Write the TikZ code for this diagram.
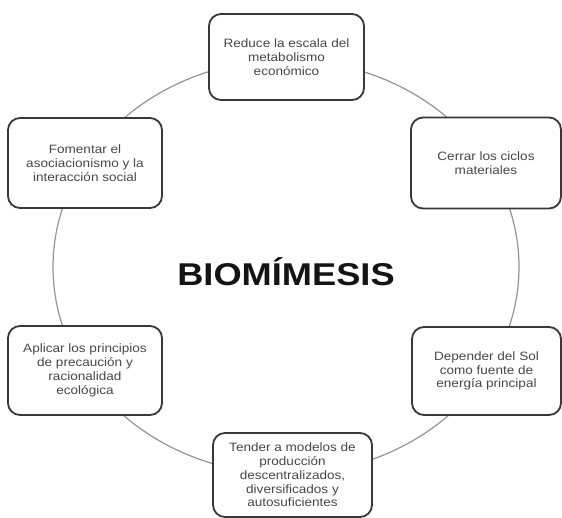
\documentclass[tikz,border=0pt]{standalone}
\usepackage{fontspec}
\setmainfont{Liberation Sans}
\newfontfamily\boxfont[FakeStretch=1.12]{Liberation Sans}
\newfontfamily\titlefont[FakeStretch=1.15]{Liberation Sans}
\begin{document}
\begin{tikzpicture}[x=1pt,y=-1pt,
  ring/.style={draw=black!42,line width=1.2pt},
  stagebox/.style={draw=black!78,line width=1.8pt,fill=white,rounded corners=12pt,
    align=center,inner sep=2pt,text=black!72,
    font=\boxfont\fontsize{12.1}{13.8}\selectfont},
  titletext/.style={font=\titlefont\bfseries\fontsize{31.5}{34}\selectfont,text=black!92}]
\useasboundingbox (0,0) rectangle (562,517);
\fill[white] (0,0) rectangle (562,517);

% central ring
\coordinate (c) at (286,267);
\draw[ring] (c) ellipse [x radius=233, y radius=207];

% title
\node[titletext] (title) at (286,272) {BIOMÍMESIS};

% the six principles
\node[stagebox,minimum width=155,minimum height=86] (top) at (286.5,57)
  {Reduce la escala del\\metabolismo\\económico};
\node[stagebox,minimum width=154,minimum height=90] (ul) at (85,163)
  {Fomentar el\\asociacionismo y la\\interacción social};
\node[stagebox,minimum width=150,minimum height=91] (ur) at (486,163)
  {Cerrar los ciclos\\materiales};
\node[stagebox,minimum width=154,minimum height=89] (ll) at (85,370.5)
  {Aplicar los principios\\de precaución y\\racionalidad\\ecológica};
\node[stagebox,minimum width=149,minimum height=88] (lr) at (486.5,371)
  {Depender del Sol\\como fuente de\\energía principal};
\node[stagebox,minimum width=159,minimum height=84] (bot) at (292.5,475)
  {Tender a modelos de\\producción\\descentralizados,\\diversificados y\\autosuficientes};
\end{tikzpicture}
\end{document}
